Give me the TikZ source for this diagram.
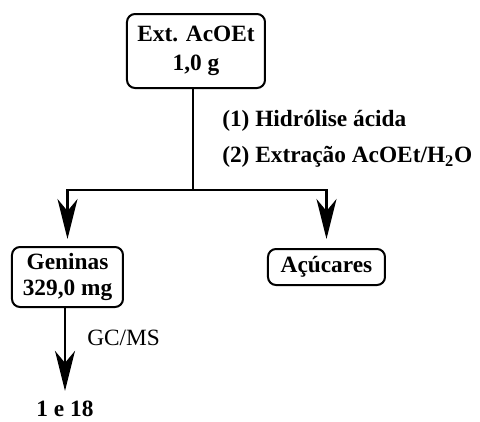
\documentclass[tikz,border=0pt]{standalone}
\usepackage{fontspec}
\setmainfont{Liberation Serif}
\usetikzlibrary{arrows.meta}
\begin{document}
\begin{tikzpicture}[x=0.75pt,y=-0.75pt,
  box/.style={draw,line width=1.5pt,rounded corners=6pt,align=center,inner sep=0pt,
    font=\fontsize{17.5}{21}\selectfont\bfseries},
  lbl/.style={font=\fontsize{17.5}{21}\selectfont\bfseries,inner sep=0pt},
  conn/.style={line width=1.8pt},
  arr/.style={line width=1.8pt,-{Stealth[length=30pt,width=15pt,inset=9pt]}}]
\useasboundingbox (0,0) rectangle (480,422);
% boxes
\node[box,minimum width=138*0.75pt,minimum height=74*0.75pt] (ext) at (196,51)
  {Ext. AcOEt\\[1pt]1,0 g};
\node[box,minimum width=111*0.75pt,minimum height=60*0.75pt] (gen) at (67.5,277)
  {Geninas\\[-1pt]329,0 mg};
\node[box,minimum width=117*0.75pt,minimum height=36*0.75pt] (acu) at (326.5,267)
  {Açúcares};
\node[lbl] (res) at (65,409) {1 e 18};
% labels of the steps
\node[lbl,anchor=west] (s1) at (222,121) {(1) Hidrólise ácida};
\node[lbl,anchor=west] (s2) at (222,157) {(2) Extração AcOEt/H\textsubscript{2}O};
\node[font=\fontsize{17.5}{21}\selectfont,inner sep=0pt,anchor=west] (gc) at (87,338) {GC/MS};
% connectors
\coordinate (j) at (193,190);
\draw[conn] (j |- ext.south) -- (j);
\draw[arr,shorten >=7*0.75pt] (j) -| (gen.north);
\draw[arr,shorten >=9*0.75pt] (j) -| (acu.north);
\draw[arr,shorten >=10*0.75pt] (gen.south -| res.north) -- (res.north);
\end{tikzpicture}
\end{document}
